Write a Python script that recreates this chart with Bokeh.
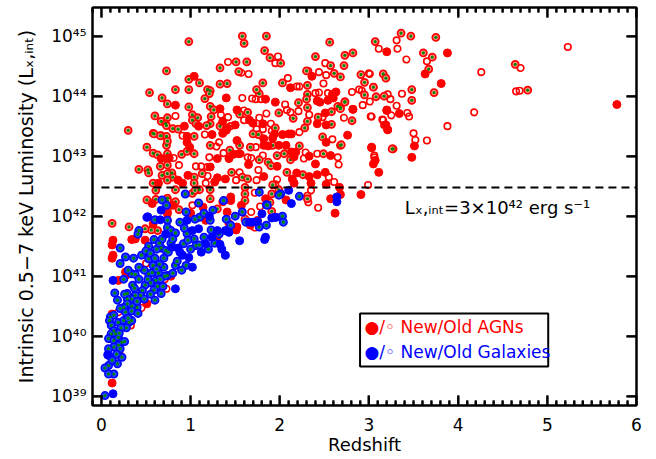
import numpy as np
from bokeh.plotting import figure
from bokeh.models import (Range1d, LinearAxis, LogAxis, FixedTicker,
                          CustomJSTickFormatter, Label, BoxAnnotation)
from bokeh.embed import file_html
from bokeh.resources import INLINE

# ---------------- data (redshift, log10 L) ----------------
agn_new_z = [1.04,0.83,1.33,1.52,0.93,1.09,1.36,1.41,1.50,0.96,1.24,1.36,1.40,1.40,
             3.20,2.36,2.12,2.63,2.60,2.54,2.42,2.45,2.82,3.20,3.19,2.76,1.95,1.84,1.70,1.81,2.51,2.52,2.42,2.03,2.13,1.66,1.82,1.92,2.59,
             0.96,0.99,0.67,0.76,0.97,1.48,1.43,1.54,1.30,1.22,1.30,1.27,1.39,0.86,0.91,0.64,0.57,0.74,1.00,1.14,1.17,1.41,1.45,1.57,0.58,0.38,0.34,0.49,1.29,1.51,0.12,0.13,0.12,0.13,0.80,
             1.87,1.99,2.07,2.52,3.03,2.13,2.16,2.33,2.40,2.57,1.65,1.97,2.19,2.42,2.51,2.14,2.16,2.33,2.35,2.52,1.82,3.05,3.07,3.11,2.91,2.67,2.68,2.57,2.62,2.07,1.67,1.84,
             5.78,3.88,3.63,3.81,3.20,3.34,3.21,3.51,3.48,3.03,2.82,
             0.27,0.28,0.19,0.78,0.51,0.12,0.12,
             1.52,1.94,2.18,2.10,1.82,1.45,1.52,1.75]
agn_new_logL = [44.33,43.85,43.79,43.77,43.50,43.50,43.58,43.47,43.52,43.33,43.36,43.38,43.43,43.97,
                44.74,44.33,44.14,44.07,43.97,43.93,43.92,43.90,43.78,43.76,43.52,43.35,43.90,43.95,43.55,43.54,43.72,43.52,43.54,43.36,43.37,43.60,43.29,43.30,44.03,
                43.23,43.15,42.96,42.97,42.68,43.03,42.96,43.04,42.96,42.82,42.64,42.57,42.62,42.60,42.55,42.55,42.21,42.07,42.05,42.15,41.93,42.07,42.32,42.18,41.87,41.62,41.61,41.60,41.62,41.77,41.52,41.35,41.30,41.60,42.18,
                43.17,43.18,43.18,43.23,43.14,43.07,42.99,43.00,42.87,43.01,42.86,42.83,42.72,42.69,42.73,42.62,42.55,42.66,42.55,42.53,42.66,42.87,42.93,42.73,42.36,42.48,42.36,42.29,42.05,42.27,41.85,42.29,
                43.86,44.72,44.37,44.21,43.77,43.71,43.44,43.17,42.98,43.15,43.78,
                41.07,41.02,40.93,41.00,40.54,40.37,39.22,
                43.26,43.37,43.07,43.37,43.18,42.26,41.82,41.93]

agn_old_z = [1.42,1.57,1.58,1.60,1.60,0.83,1.34,1.42,1.45,0.91,1.16,
             3.11,1.98,1.95,2.51,2.32,2.44,2.52,3.01,2.49,2.09,2.19,2.22,2.89,2.92,2.81,2.54,2.40,2.44,2.93,3.01,3.21,3.24,3.25,3.16,3.03,2.59,1.69,1.73,1.79,1.65,2.06,2.08,2.12,2.21,1.85,1.77,1.90,2.33,2.48,2.72,2.22,1.91,1.81,1.74,
             0.81,0.87,1.06,1.12,1.19,1.21,1.29,1.32,1.37,1.19,1.55,1.51,1.17,1.02,0.50,
             1.73,1.64,1.68,1.81,2.29,2.27,2.42,2.65,2.66,1.76,2.55,2.61,1.97,1.74,1.95,3.06,2.99,2.43,2.32,2.31,2.35,1.72,1.78,1.72,1.68,
             5.23,4.70,4.26,4.65,4.69,4.18,3.88,3.31,3.32,3.42,3.65,3.37,3.31,3.43,3.45,3.15,3.17,3.50,3.52,3.65,3.06,3.00,3.05,3.02,
             0.45,0.73,0.19,0.33,0.21,0.71,1.56]
agn_old_logL = [44.57,44.39,43.97,43.76,43.60,43.67,43.69,43.65,43.50,43.34,43.36,
                44.79,44.66,44.55,44.55,44.42,44.40,44.35,44.37,44.21,44.30,44.16,44.16,44.11,44.09,44.07,44.05,44.05,44.06,43.85,43.91,44.03,43.95,43.68,43.60,43.66,43.28,43.96,43.95,43.95,44.37,43.86,43.77,43.73,43.75,43.71,43.64,43.54,43.69,43.65,43.64,43.40,43.42,43.45,43.45,
                42.97,42.85,42.83,42.83,42.82,42.98,43.16,43.23,43.05,42.67,42.73,42.60,42.55,42.18,41.21,
                43.15,42.98,42.97,43.01,43.06,42.96,43.04,42.98,42.86,42.77,42.65,42.57,42.61,42.60,42.53,42.98,42.52,42.14,42.23,42.34,42.43,42.39,42.16,41.81,42.07,
                44.82,44.47,44.40,44.08,44.09,43.73,43.50,44.93,44.79,44.61,44.58,44.04,43.84,43.72,43.66,43.61,43.52,43.38,43.27,43.26,43.01,44.38,44.15,43.66,
                40.47,40.79,40.40,40.18,39.68,40.95,43.04]

agn_oldg_z = [0.98,1.58,1.60,1.51,1.33,0.73,0.98,1.10,1.54,1.33,1.41,0.54,0.83,0.98,1.19,1.22,1.21,0.68,1.16,0.74,0.98,1.22,1.26,1.55,0.60,0.74,1.02,1.08,1.23,0.67,0.72,0.73,1.02,1.06,1.22,1.18,1.33,0.30,0.80,0.86,0.58,0.67,0.73,1.04,
              1.85,2.56,3.07,1.83,1.89,2.01,2.40,2.57,2.73,2.82,2.72,2.30,2.61,2.91,3.16,3.19,2.68,2.03,1.81,2.31,2.95,3.05,2.95,2.31,2.30,2.73,2.65,2.68,3.08,3.21,2.81,2.48,1.77,1.74,1.63,2.21,2.31,1.99,1.64,2.15,2.31,2.43,2.58,2.58,2.28,1.95,1.76,1.70,
              0.51,0.58,0.63,0.73,0.74,0.66,0.52,0.42,0.53,0.68,0.79,0.90,0.96,1.04,1.04,1.13,1.22,1.44,1.55,1.46,1.58,0.80,0.58,1.04,1.10,1.22,0.61,0.83,0.51,0.61,0.74,0.83,0.87,1.02,1.05,1.22,1.30,1.36,0.63,0.56,0.49,0.31,0.12,1.43,
              1.92,2.22,2.68,3.27,1.77,1.87,1.97,2.05,2.12,2.49,1.90,2.08,2.26,1.64,1.92,2.31,1.99,1.91,1.89,1.91,
              4.64,4.78,3.75,3.47,3.36,3.61,3.71,3.67,3.73,3.48,3.48,3.26,2.69,3.17,2.73,2.68,
              0.59,0.66,0.74,0.74,0.74,0.74,0.74,0.74,0.74,0.74,0.74,1.61,1.61,1.61,1.61,1.67]
agn_oldg_logL = [44.91,45.00,44.88,44.57,44.47,44.42,44.28,44.22,44.41,44.20,44.21,44.06,44.11,44.11,44.11,44.09,44.04,43.97,43.96,43.87,43.82,43.83,43.77,43.70,43.67,43.64,43.69,43.64,43.66,43.58,43.54,43.51,43.60,43.54,43.54,43.51,43.50,43.43,43.46,43.45,43.38,43.34,43.33,43.33,
                 45.00,44.90,44.91,44.76,44.64,44.55,44.66,44.51,44.68,44.72,44.51,44.42,44.38,44.36,44.37,44.30,44.32,44.22,44.22,44.18,44.23,44.15,44.02,44.03,43.95,43.91,43.83,43.81,43.99,43.44,43.59,43.32,44.04,44.11,44.57,43.89,43.81,43.72,43.73,43.63,43.58,43.65,43.74,43.53,43.47,43.47,43.36,43.37,
                 43.15,43.05,43.02,43.18,43.04,42.83,42.77,42.78,42.72,42.68,42.72,43.03,43.08,43.04,42.65,42.71,43.18,43.10,43.18,42.73,42.65,42.65,42.55,42.55,42.44,42.44,42.43,42.44,42.27,42.28,42.30,42.24,42.11,42.38,42.43,42.29,42.12,42.24,41.76,41.77,41.79,41.82,41.88,41.88,
                 43.18,43.17,43.18,43.12,42.94,42.90,43.01,43.04,42.94,43.04,42.84,42.73,42.69,42.62,42.52,42.29,42.44,42.37,42.23,42.08,
                 44.53,44.10,44.98,45.00,45.05,44.72,44.65,44.45,44.06,44.11,43.93,43.12,43.19,44.00,43.90,43.79,
                 43.37,43.34,42.96,42.85,42.71,42.60,42.26,42.15,42.04,41.93,43.25,42.48,42.37,42.26,41.95,43.15]

gal_new_z = [0.67,1.21,0.52,0.66,0.72,1.02,1.09,1.17,0.79,0.86,1.24,1.33,1.39,1.43,1.55,0.91,0.98,1.02,
             2.64,2.64,2.13,2.10,1.96,1.91,1.80,1.75,1.83,1.66,
             0.13,0.83,0.13,0.07,
             0.96,1.30,1.39,1.69,1.94,1.84,1.12,0.88,1.35]
gal_new_logL = [42.10,42.00,41.99,41.94,41.70,41.76,41.79,41.54,41.48,41.47,41.65,41.53,41.35,41.73,41.59,41.35,41.31,41.15,
                42.32,42.24,42.21,42.43,41.98,41.97,42.04,41.91,41.61,41.90,
                40.93,40.79,39.04,39.69,
                41.93,41.76,41.76,41.90,41.98,41.65,41.40,41.40,41.45]

gal_oldg_z = [0.68,0.73,0.94,0.95,1.09,1.10,1.37,1.58,0.60,0.74,0.74,0.78,0.83,0.42,0.41,0.59,0.53,0.67,0.72,0.92,0.96,1.04,1.06,1.10,1.23,1.32,0.95,0.83,0.70,0.53,0.21,0.27,0.36,0.21,
              2.22,2.01,1.99,1.85,1.77,2.03,2.04,1.85,
              0.34,0.38,0.53,0.57,0.64,0.74,0.61,0.55,0.49,0.63,0.69,0.67,0.59,0.55,0.46,0.44,0.38,0.34,0.29,0.29,0.15,0.18,0.40,0.34,0.29,0.25,0.21,0.27,0.34,0.41,0.10,0.14,0.09,0.19,0.25,0.31,0.34,0.28,0.22,0.11,0.14,0.11,0.16,0.08,0.14,0.19,0.23,0.26,0.19,0.14,0.21,0.08,0.08,0.23,0.18,0.08,0.04,0.14,0.08,0.04,
              0.51,1.22,1.62,1.77,1.86,
              0.45,0.50,0.55,0.60,0.62,0.65,0.68,0.70,0.75,0.78,0.80,0.85,0.65,0.58,0.48,0.42,0.30,0.25,0.35,0.42,0.52,0.60,0.48,0.40,0.30,0.20,0.17,0.12,0.26,0.37,0.71,0.66,0.62,0.80,0.90,1.00,1.15,1.20,1.27,0.97,0.93,0.88,1.05,1.15,1.25,1.40,1.45,1.50]
gal_oldg_logL = [42.27,42.18,42.37,42.07,42.22,41.98,42.26,42.07,41.94,41.93,41.81,41.76,41.72,41.76,41.70,41.61,41.50,41.47,41.43,41.54,41.71,41.62,41.51,41.52,41.77,41.70,41.18,41.18,41.15,41.29,41.47,41.32,41.30,41.21,
                 42.33,42.37,42.35,42.19,42.40,42.00,41.90,41.85,
                 41.04,41.03,41.04,41.06,41.05,41.01,40.93,40.89,40.85,40.83,40.83,40.71,40.77,40.70,40.76,40.68,40.68,40.62,40.71,40.62,40.72,40.60,40.48,40.50,40.54,40.48,40.46,40.40,40.42,40.38,40.32,40.35,40.26,40.23,40.26,40.23,40.26,40.14,40.14,40.18,40.09,40.04,40.04,39.96,39.93,39.98,39.90,39.91,39.85,39.82,39.79,39.79,39.68,39.65,39.54,39.51,39.47,39.37,39.37,39.01,
                 41.98,41.93,41.90,41.82,42.18,
                 41.35,41.42,41.38,41.30,41.45,41.55,41.62,41.30,41.40,41.55,41.62,41.25,41.20,41.18,41.10,41.15,41.10,40.95,40.85,40.95,40.95,40.60,40.62,40.58,40.30,40.05,39.70,39.60,40.70,40.80,41.00,40.95,41.12,41.05,41.10,41.45,41.65,41.45,41.55,41.60,41.80,41.90,41.95,42.05,42.10,41.95,41.85,42.00]

x_major_ticks = [0, 1, 2, 3, 4, 5, 6]
y_tick_exp = [39, 40, 41, 42, 43, 44, 45]
threshold_L = 3e42

# ---------------- figure ----------------
FONT = "DejaVu Sans"
XMIN, XMAX = -0.1, 6.0
YMIN, YMAX = 7e38, 3e45
W, H = 652, 459
BL, BR, BT, BB = 92, 16, 7, 54
p = figure(width=W, height=H, x_range=Range1d(XMIN, XMAX), y_range=Range1d(YMIN, YMAX),
           y_axis_type="log", output_backend="svg", toolbar_location=None,
           min_border_left=BL, min_border_right=BR, min_border_top=BT, min_border_bottom=BB)
p.grid.visible = False
p.outline_line_color = "black"
p.outline_line_width = 2
p.background_fill_color = "white"
p.border_fill_color = "white"

x_minor_ticks = [k / 10 for k in range(-1, 61) if k % 10 != 0]
y_ticks = [10.0 ** e for e in y_tick_exp]
yticker = FixedTicker(ticks=y_ticks)
xticker = FixedTicker(ticks=x_major_ticks, minor_ticks=x_minor_ticks)
sup_fmt = CustomJSTickFormatter(code="""
const s = {'0':'\u2070','1':'\u00b9','2':'\u00b2','3':'\u00b3','4':'\u2074','5':'\u2075','6':'\u2076','7':'\u2077','8':'\u2078','9':'\u2079','-':'\u207b'};
const e = Math.round(Math.log10(tick));
return '10' + String(e).split('').map(c => s[c]).join('');
""")
blank_fmt = CustomJSTickFormatter(code="return '';")

def style(ax):
    ax.axis_line_width = 2
    ax.axis_line_color = "black"
    ax.major_tick_in = 10
    ax.major_tick_out = 0
    ax.minor_tick_in = 5
    ax.minor_tick_out = 0
    ax.major_tick_line_color = "black"
    ax.minor_tick_line_color = "black"
    ax.major_tick_line_width = 2
    ax.minor_tick_line_width = 2
    ax.major_label_text_font = FONT
    ax.major_label_text_font_size = "17px"
    ax.major_label_text_color = "black"
    ax.axis_label_text_font = FONT
    ax.axis_label_text_font_size = "18px"
    ax.axis_label_text_font_style = "normal"
    ax.axis_label_text_color = "black"

xa = p.xaxis[0]
xa.ticker = xticker
style(xa)
xa.axis_label = "Redshift"
xa.major_label_standoff = 12
xa.axis_label_standoff = 0

ya = p.yaxis[0]
ya.ticker = yticker
ya.formatter = sup_fmt
style(ya)
ya.axis_label = "Intrinsic 0.5\u22127 keV Luminosity (L\u2093,\u1d62\u2099\u209c)"
ya.axis_label_text_font_size = "19px"
ya.major_label_standoff = 6
ya.axis_label_standoff = 11

top = LinearAxis(ticker=xticker, formatter=blank_fmt)
style(top)
top.major_label_standoff = 0
p.add_layout(top, "above")

right = LogAxis(ticker=yticker, formatter=blank_fmt)
style(right)
right.major_label_standoff = 0
p.add_layout(right, "right")

# ---------------- points ----------------
def L(v):
    return [10.0 ** x for x in v]

p.scatter(agn_old_z, L(agn_old_logL), size=6.5, marker="circle", fill_color=None,
          line_color="#ff0000", line_width=1.6)
p.scatter(agn_oldg_z, L(agn_oldg_logL), size=7, marker="circle", fill_color="#ff9090",
          line_color="#ff0000", line_width=1.8)
p.scatter(agn_oldg_z, L(agn_oldg_logL), size=3.2, marker="circle", fill_color="#008a00",
          line_color=None)
p.scatter(agn_new_z, L(agn_new_logL), size=8, marker="circle", fill_color="#ff0000",
          line_color="#ff0000")
p.scatter(gal_oldg_z, L(gal_oldg_logL), size=7.5, marker="circle", fill_color="#2040ff",
          line_color="#0000ff", line_width=1.5)
p.scatter(gal_oldg_z, L(gal_oldg_logL), size=3.2, marker="circle", fill_color="#008a00",
          line_color=None)
p.scatter(gal_new_z, L(gal_new_logL), size=8, marker="circle", fill_color="#0000ff",
          line_color="#0000ff")

# threshold line
p.line([0, 6], [threshold_L, threshold_L], line_color="black", line_width=2, line_dash="8 5")

# ---------------- inward tick marks as data-space quads (from the tick lists) ----------------
frame_w = W - BL - BR
frame_h = H - BT - BB
px_per_x = frame_w / (XMAX - XMIN)
px_per_dec = float(frame_h / np.log10(YMAX / YMIN))
MAJ, MIN, TW = 10.0, 5.0, 2.0
hw = TW / 2 / px_per_x

def xquads(xs, length):
    f = 10 ** (length / px_per_dec)
    lefts = [float(x) - hw for x in xs]
    rights = [float(x) + hw for x in xs]
    n = len(xs)
    p.quad(left=lefts, right=rights, bottom=[YMIN] * n, top=[YMIN * f] * n,
           fill_color="black", line_color=None)
    p.quad(left=lefts, right=rights, bottom=[YMAX / f] * n, top=[YMAX] * n,
           fill_color="black", line_color=None)

xquads(x_major_ticks, MAJ)
xquads(x_minor_ticks, MIN)
fh = 10 ** (TW / 2 / px_per_dec)
dx = MAJ / px_per_x
n = len(y_ticks)
p.quad(left=[XMIN] * n, right=[XMIN + dx] * n, bottom=[t / fh for t in y_ticks],
       top=[t * fh for t in y_ticks], fill_color="black", line_color=None)
p.quad(left=[XMAX - dx] * n, right=[XMAX] * n, bottom=[t / fh for t in y_ticks],
       top=[t * fh for t in y_ticks], fill_color="black", line_color=None)

p.add_layout(Label(x=3.40, y=10 ** 42.14, text="L\u2093,\u1d62\u2099\u209c=3\u00d710\u2074\u00b2 erg s\u207b\u00b9",
                   text_font=FONT, text_font_size="18px", text_baseline="middle", text_color="black"))

# legend
p.add_layout(BoxAnnotation(left=2.90, right=5.01, bottom=10 ** 39.495, top=10 ** 40.378,
                           fill_color="white", fill_alpha=1, line_color="black", line_alpha=1,
                           line_width=2))
p.add_layout(Label(x=2.95, y=10 ** 40.145, text="\u25cf/\u25e6 New/Old AGNs", text_font=FONT,
                   text_font_size="17px", text_baseline="middle", text_color="#ff0000"))
p.add_layout(Label(x=2.95, y=10 ** 39.73, text="\u25cf/\u25e6 New/Old Galaxies", text_font=FONT,
                   text_font_size="17px", text_baseline="middle", text_color="#0000ff"))

open("out.html", "w").write(file_html(p, INLINE))
